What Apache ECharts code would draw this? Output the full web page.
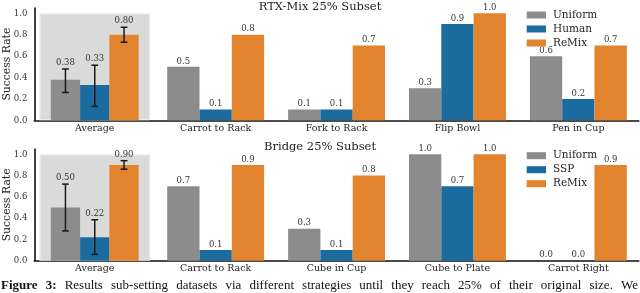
<!DOCTYPE html>
<html><head><meta charset="utf-8">
<script src="https://cdn.jsdelivr.net/npm/echarts@6/dist/echarts.min.js"></script>
<style>html,body{margin:0;padding:0;background:#fff}#c{width:640px;height:293px}</style>
</head><body><div id="c"></div>
<script>
// ---- data ----
const topTitle = 'RTX-Mix 25% Subset';
const topNames = ['Uniform', 'Human', 'ReMix'];
const topCats = ['Average', 'Carrot to Rack', 'Fork to Rack', 'Flip Bowl', 'Pen in Cup'];
const topUniform = [0.38, 0.5, 0.1, 0.3, 0.6];
const topHuman = [0.33, 0.1, 0.1, 0.9, 0.2];
const topRemix = [0.80, 0.8, 0.7, 1.0, 0.7];
const topErrLow = [0.26, 0.13, 0.73];
const topErrHigh = [0.48, 0.515, 0.87];

const botTitle = 'Bridge 25% Subset';
const botNames = ['Uniform', 'SSP', 'ReMix'];
const botCats = ['Average', 'Carrot to Rack', 'Cube in Cup', 'Cube to Plate', 'Carrot Right'];
const botUniform = [0.50, 0.7, 0.3, 1.0, 0.0];
const botSSP = [0.22, 0.1, 0.1, 0.7, 0.0];
const botRemix = [0.90, 0.9, 0.8, 1.0, 0.9];
const botErrLow = [0.28, 0.06, 0.86];
const botErrHigh = [0.72, 0.385, 0.94];

const yTicks = [0, 0.2, 0.4, 0.6, 0.8, 1.0];
const captionBold = 'Figure 3:';
const caption = 'Results sub-setting datasets via different strategies until they reach 25% of their original size. We';

// ---- style ----
const COLORS = ['#8c8c8c', '#1c6b9f', '#e2832d'];
const SERIF = '"DejaVu Serif", serif';
const CAP_FONT = '"Liberation Serif", serif';
const BAR_W = 32.3, AVG_W = 29.3, BG_W = 110.7;
const grids = [
  { left: 34.3, right: 1.2, top: 8.0, height: 112.3, outerBoundsMode: 'none', containLabel: false },
  { left: 34.3, right: 1.2, top: 149.0, height: 111.7, outerBoundsMode: 'none', containLabel: false }
];

const panels = [
  { cats: topCats, names: topNames, vals: [topUniform, topHuman, topRemix], lo: topErrLow, hi: topErrHigh, title: topTitle },
  { cats: botCats, names: botNames, vals: [botUniform, botSSP, botRemix], lo: botErrLow, hi: botErrHigh, title: botTitle }
];

const xAxes = [], yAxes = [], series = [], legends = [], titles = [];
const legendTops = [8, 148.7];
const titleTops = [1, 141.5];

panels.forEach((p, g) => {
  const main = xAxes.length;
  xAxes.push({
    type: 'category', data: p.cats, gridIndex: g,
    axisLine: { show: true, lineStyle: { color: '#111', width: 1.6 } },
    axisTick: { show: false },
    axisLabel: { fontFamily: SERIF, fontSize: 9.5, color: '#222', margin: 3 }
  });
  xAxes.push({ type: 'category', data: p.cats, gridIndex: g, show: false });
  xAxes.push({ type: 'category', data: p.cats, gridIndex: g, show: false });
  yAxes.push({
    type: 'value', gridIndex: g, min: 0, max: 1.05, interval: 0.2,
    name: 'Success Rate', nameLocation: 'middle', nameGap: 22, nameRotate: 90, nameMoveOverlap: false,
    nameTextStyle: { fontFamily: SERIF, fontSize: 10.8, color: '#222' },
    axisLine: { show: true, lineStyle: { color: '#111', width: 1.6 } },
    axisTick: { show: false },
    splitLine: { show: false },
    axisLabel: {
      fontFamily: SERIF, fontSize: 8.5, color: '#333', margin: 7,
      formatter: v => yTicks.some(t => Math.abs(t - v) < 1e-6) ? v.toFixed(1) : ''
    }
  });
  series.push({
    type: 'bar', name: 'bg' + g, xAxisIndex: main + 2, yAxisIndex: g, silent: true,
    barWidth: BG_W, z: 0,
    itemStyle: { color: '#dadada', borderColor: '#ebebeb', borderWidth: 1.2 },
    data: p.cats.map((c, i) => i === 0 ? 1.0 : '-')
  });
  p.vals.forEach((arr, s) => {
    series.push({
      type: 'bar', name: p.names[s], xAxisIndex: main, yAxisIndex: g,
      barWidth: BAR_W, barGap: '0%', z: 2,
      itemStyle: { color: COLORS[s] },
      label: {
        show: true, position: 'top', distance: 1,
        fontFamily: SERIF, fontSize: 8.5, color: '#333',
        formatter: d => Number(d.value).toFixed(1)
      },
      data: arr.map((v, i) => i === 0 ? '-' : v)
    });
    series.push({
      type: 'bar', name: p.names[s], xAxisIndex: main + 1, yAxisIndex: g,
      barWidth: AVG_W, barGap: '0%', z: 2,
      itemStyle: { color: COLORS[s] },
      data: arr.map((v, i) => i === 0 ? v : '-')
    });
  });
  const errData = [0, 1, 2].map(s => [0, p.lo[s], p.hi[s], p.vals[s][0], s]);
  series.push({
    type: 'custom', name: 'err' + g, xAxisIndex: main + 1, yAxisIndex: g, z: 5, silent: true,
    encode: { x: 0, y: [1, 2] },
    data: errData,
    renderItem: (params, api) => {
      const s = api.value(4);
      const lo = api.coord([api.value(0), api.value(1)]);
      const hi = api.coord([api.value(0), api.value(2)]);
      const x = lo[0] + (s - 1) * AVG_W;
      const cap = 3.4;
      const ls = { stroke: '#1a1a1a', lineWidth: 1.5 };
      return {
        type: 'group', children: [
          { type: 'line', shape: { x1: x, y1: lo[1], x2: x, y2: hi[1] }, style: ls },
          { type: 'line', shape: { x1: x - cap, y1: lo[1], x2: x + cap, y2: lo[1] }, style: ls },
          { type: 'line', shape: { x1: x - cap, y1: hi[1], x2: x + cap, y2: hi[1] }, style: ls },
          { type: 'text', style: { text: Number(api.value(3)).toFixed(2), x: x, y: hi[1] - 1.5,
            align: 'center', verticalAlign: 'bottom', fontFamily: SERIF, fontSize: 8.5, fill: '#333' } }
        ]
      };
    }
  });
  legends.push({
    data: p.names, left: 526.7, top: legendTops[g], orient: 'vertical', padding: 0,
    itemWidth: 19.3, itemHeight: 7, itemGap: 0, icon: 'rect', selectedMode: false,
    textStyle: { fontFamily: SERIF, fontSize: 10.5, color: '#222', lineHeight: 14, padding: [0, 0, 0, 2] }
  });
  titles.push({
    text: p.title, left: 'center', top: titleTops[g], padding: 0,
    textStyle: { fontFamily: SERIF, fontSize: 11.5, fontWeight: 'normal', color: '#222' }
  });
});

// justified caption line (words spread across the full width)
const capSize = 13, capLeft = 1, capRight = 638, capTop = 279;
const ctx = document.createElement('canvas').getContext('2d');
const words = [];
captionBold.split(' ').forEach(w => words.push({ w, bold: true }));
caption.split(' ').forEach(w => words.push({ w, bold: false }));
let total = 0;
words.forEach(o => {
  ctx.font = (o.bold ? 'bold ' : '') + capSize + 'px ' + CAP_FONT;
  o.width = ctx.measureText(o.w).width;
  total += o.width;
});
const gap = (capRight - capLeft - total) / (words.length - 1);
let cx = capLeft;
const capEls = words.map(o => {
  const el = {
    type: 'text', x: cx, y: capTop, silent: true,
    style: { text: o.w, fontFamily: CAP_FONT, fontSize: capSize, fontWeight: o.bold ? 'bold' : 'normal', fill: '#111' }
  };
  cx += o.width + gap;
  return el;
});

const chart = echarts.init(document.getElementById('c'), null, { renderer: 'canvas' });
chart.setOption({
  animation: false,
  backgroundColor: '#fff',
  title: titles,
  legend: legends,
  grid: grids,
  xAxis: xAxes,
  yAxis: yAxes,
  series: series,
  graphic: capEls
});
</script></body></html>
